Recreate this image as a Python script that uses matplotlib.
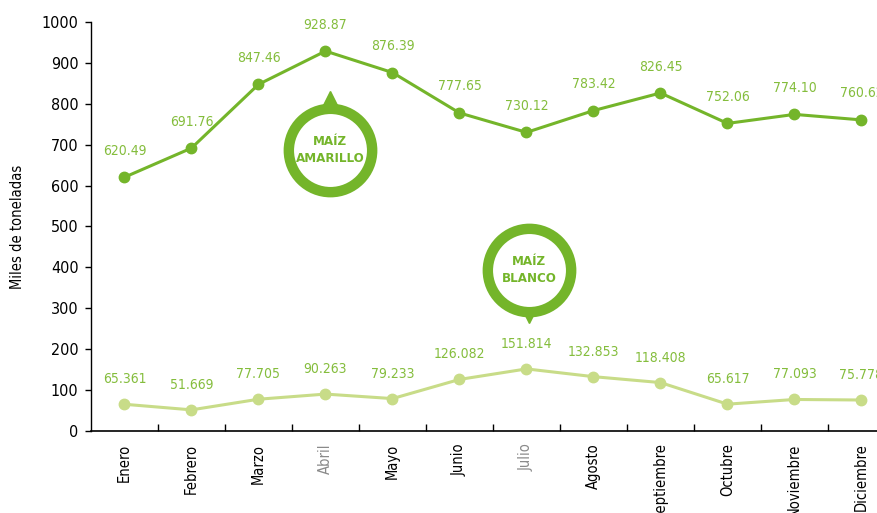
import matplotlib
matplotlib.use("Agg")
import matplotlib.pyplot as plt
import numpy as np
from matplotlib import font_manager

meses = ["Enero", "Febrero", "Marzo", "Abril", "Mayo", "Junio", "Julio",
         "Agosto", "Septiembre", "Octubre", "Noviembre", "Diciembre"]
amarillo = [620.49, 691.76, 847.46, 928.87, 876.39, 777.65, 730.12,
            783.42, 826.45, 752.06, 774.10, 760.62]
blanco = [65.361, 51.669, 77.705, 90.263, 79.233, 126.082, 151.814,
          132.853, 118.408, 65.617, 77.093, 75.778]
amarillo_txt = ["%.2f" % v for v in amarillo]
blanco_txt = ["%.3f" % v for v in blanco]

# fuente condensada si existe
nombres = {f.name for f in font_manager.fontManager.ttflist}
fuente = "Liberation Sans Narrow" if "Liberation Sans Narrow" in nombres else "DejaVu Sans"
plt.rcParams["font.family"] = [fuente, "DejaVu Sans"]
plt.rcParams["font.stretch"] = "condensed"

verde = "#74b52a"
verde_claro = "#c8dc88"
verde_txt = "#84bd3c"

fig = plt.figure(figsize=(8.78, 5.13), dpi=100)
ax = fig.add_axes([91/878, 82/513, 804/878, 409/513])

x = np.arange(len(meses))
ax.plot(x, amarillo, color=verde, lw=2.2, marker="o", ms=7.5, zorder=3)
ax.plot(x, blanco, color=verde_claro, lw=2.2, marker="o", ms=7.5, zorder=3)

for i in x:
    ax.annotate(amarillo_txt[i], (i, amarillo[i]), xytext=(0, 14), textcoords="offset points",
                ha="center", va="bottom", color=verde_txt, fontsize=10)
    ax.annotate(blanco_txt[i], (i, blanco[i]), xytext=(0, 13), textcoords="offset points",
                ha="center", va="bottom", color=verde_txt, fontsize=10)

# globos
ax.plot(3.07, 789, marker="^", ms=24, color=verde, mec=verde, zorder=4)
ax.plot(3.07, 687, marker="o", ms=60, mfc="white", mec=verde, mew=7.5, zorder=5)
ax.text(3.07, 687, "MAÍZ\nAMARILLO", ha="center", va="center", color=verde,
        fontsize=9.5, fontweight="bold", linespacing=1.35, zorder=6)

ax.plot(6.04, 305, marker="v", ms=24, color=verde, mec=verde, zorder=4)
ax.plot(6.04, 394, marker="o", ms=60, mfc="white", mec=verde, mew=7.5, zorder=5)
ax.text(6.04, 394, "MAÍZ\nBLANCO", ha="center", va="center", color=verde,
        fontsize=9.5, fontweight="bold", linespacing=1.35, zorder=6)

ax.set_xlim(-0.5, 11.5)
ax.set_ylim(0, 1000)
ax.set_yticks(np.arange(0, 1001, 100))
ax.tick_params(axis="y", labelsize=11.5, length=4, width=1, pad=5)
ax.set_xticks(x)
ax.set_xticklabels(meses, rotation=90, fontsize=10.5)
ax.set_xticks(np.arange(0.5, 11.5, 1), minor=True)
ax.tick_params(axis="x", which="major", length=0, pad=9)
ax.tick_params(axis="x", which="minor", direction="in", length=5, width=1)
for t in ax.get_xticklabels():
    if t.get_text() in ("Abril", "Julio"):
        t.set_color("#8a8a8a")

ax.spines["top"].set_visible(False)
ax.spines["right"].set_visible(False)
ax.spines["left"].set_linewidth(1)
ax.spines["bottom"].set_linewidth(1.2)
ax.set_ylabel("Miles de toneladas", fontsize=10.5, labelpad=12)

fig.savefig("out.png", dpi=100)
